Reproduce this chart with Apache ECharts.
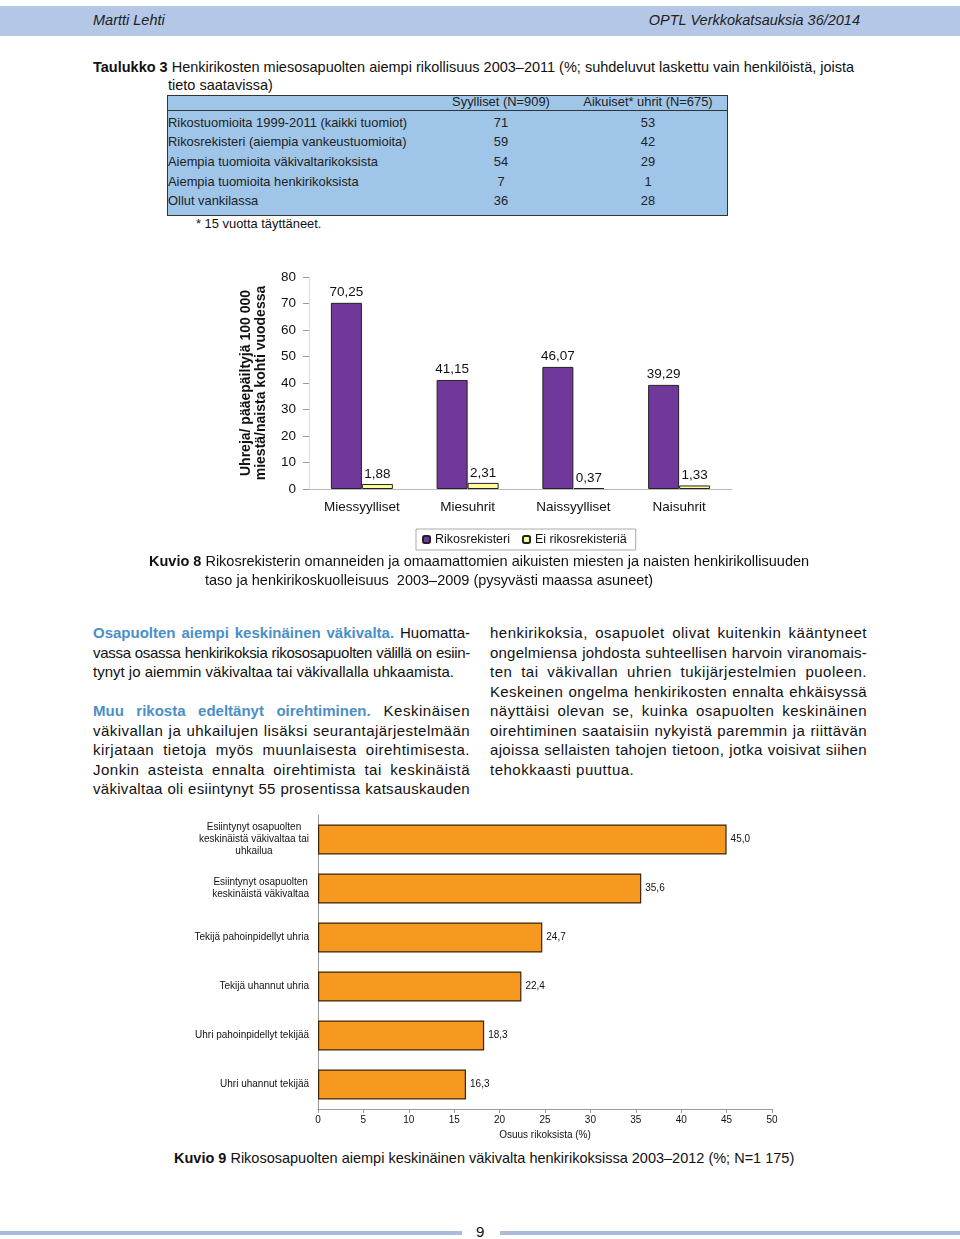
<!DOCTYPE html>
<html>
<head>
<meta charset="utf-8">
<script src="https://cdn.jsdelivr.net/npm/echarts@6/dist/echarts.min.js"></script>
<style>
  html, body { margin: 0; padding: 0; background: #fff; }
  body { width: 960px; height: 1239px; position: relative; overflow: hidden; font-family: "Liberation Sans", Arial, sans-serif; color: #111; }
  .abs { position: absolute; }
  .hdr { left: 0; top: 6px; width: 960px; height: 30px; background: #b4c7e7; }
  .hdrtxt { font-family: "Liberation Sans Narrow", "Liberation Sans", sans-serif; font-style: italic; font-size: 14.5px; color: #222; top: 12px; }
  .title { font-size: 14.5px; left: 93px; white-space: nowrap; }
  .tbl { left: 167px; top: 95px; width: 559px; height: 119px; background: #9fc5e8; border: 1px solid #333; font-size: 12.9px; color: #222; }
  .tr { position: absolute; left: 0; width: 559px; height: 19.7px; line-height: 19.7px; white-space: nowrap; }
  .tc { position: absolute; top: 0; width: 140px; text-align: center; }
  .col { font-size: 15px; line-height: 19.5px; }
  .ln { white-space: nowrap; text-align: justify; text-align-last: justify; }
  .last { text-align-last: left; }
  .blue { color: #4a8fc9; font-weight: bold; letter-spacing: 0 !important; }
  .cap { font-size: 14.5px; white-space: nowrap; }
</style>
</head>
<body>
<div class="abs hdr"></div>
<div class="abs hdrtxt" style="left:93px;">Martti Lehti</div>
<div class="abs hdrtxt" style="right:100px;">OPTL Verkkokatsauksia 36/2014</div>

<div class="abs title" style="top:59px;"><b>Taulukko 3</b> Henkirikosten miesosapuolten aiempi rikollisuus 2003–2011 (%; suhdeluvut laskettu vain henkilöistä, joista</div>
<div class="abs title" style="top:77px; left:168px;">tieto saatavissa)</div>

<div class="abs tbl" id="tablewrap"></div>
<div class="abs" style="left:196px; top:216px; font-size:12.9px;">* 15 vuotta täyttäneet.</div>

<div class="abs" id="c1" style="left:0; top:250px; width:960px; height:310px;"></div>

<div class="abs cap" style="left:149px; top:553px;"><b>Kuvio 8</b> Rikosrekisterin omanneiden ja omaamattomien aikuisten miesten ja naisten henkirikollisuuden</div>
<div class="abs cap" style="left:205px; top:572px;">taso ja henkirikoskuolleisuus &nbsp;2003–2009 (pysyvästi maassa asuneet)</div>

<div class="abs col" style="left:93px; top:623px; width:377px;">
  <div class="ln" data-ls="0"><span class="blue">Osapuolten aiempi keskinäinen väkivalta.</span> Huomatta-</div>
  <div class="ln" data-ls="0">vassa osassa henkirikoksia rikososapuolten välillä on esiin-</div>
  <div class="ln last" data-ls="0">tynyt jo aiemmin väkivaltaa tai väkivallalla uhkaamista.</div>
  <div style="height:19.5px;"></div>
  <div class="ln" data-ls="0.5"><span class="blue">Muu rikosta edeltänyt oirehtiminen.</span> Keskinäisen</div>
  <div class="ln" data-ls="0.5">väkivallan ja uhkailujen lisäksi seurantajärjestelmään</div>
  <div class="ln" data-ls="0.5">kirjataan tietoja myös muunlaisesta oirehtimisesta.</div>
  <div class="ln" data-ls="0.5">Jonkin asteista ennalta oirehtimista tai keskinäistä</div>
  <div class="ln" data-ls="0.5">väkivaltaa oli esiintynyt 55 prosentissa katsauskauden</div>
</div>

<div class="abs col" style="left:490px; top:623px; width:377px;">
  <div class="ln" data-ls="0.5">henkirikoksia, osapuolet olivat kuitenkin kääntyneet</div>
  <div class="ln" data-ls="0.5">ongelmiensa johdosta suhteellisen harvoin viranomais-</div>
  <div class="ln" data-ls="0.5">ten tai väkivallan uhrien tukijärjestelmien puoleen.</div>
  <div class="ln" data-ls="0.5">Keskeinen ongelma henkirikosten ennalta ehkäisyssä</div>
  <div class="ln" data-ls="0.5">näyttäisi olevan se, kuinka osapuolten keskinäinen</div>
  <div class="ln" data-ls="0.5">oirehtiminen saataisiin nykyistä paremmin ja riittävän</div>
  <div class="ln" data-ls="0.5">ajoissa sellaisten tahojen tietoon, jotka voisivat siihen</div>
  <div class="ln last" data-ls="0.5">tehokkaasti puuttua.</div>
</div>

<div class="abs" id="c2" style="left:0; top:800px; width:960px; height:350px;"></div>

<div class="abs cap" style="left:174px; top:1150px;"><b>Kuvio 9</b> Rikososapuolten aiempi keskinäinen väkivalta henkirikoksissa 2003–2012 (%; N=1 175)</div>

<div class="abs" style="left:0; top:1231px; width:462px; height:4px; background:#a9bcd9;"></div>
<div class="abs" style="left:500px; top:1231px; width:460px; height:4px; background:#a9bcd9;"></div>
<div class="abs" style="left:476px; top:1223px; font-size:15px;">9</div>

<script>
// ---- Taulukko 3 ----
var tableCols = ['Syylliset (N=909)', 'Aikuiset* uhrit (N=675)'];
var tableRows = ['Rikostuomioita 1999-2011 (kaikki tuomiot)', 'Rikosrekisteri (aiempia vankeustuomioita)', 'Aiempia tuomioita väkivaltarikoksista', 'Aiempia tuomioita henkirikoksista', 'Ollut vankilassa'];
var tableSyylliset = [71, 59, 54, 7, 36];
var tableUhrit = [53, 42, 29, 1, 28];

// ---- Kuvio 8 ----
var k8Categories = ['Miessyylliset', 'Miesuhrit', 'Naissyylliset', 'Naisuhrit'];
var k8Rikosrekisteri = [70.25, 41.15, 46.07, 39.29];
var k8EiRikosrekisteria = [1.88, 2.31, 0.37, 1.33];
var k8YTicks = [0, 10, 20, 30, 40, 50, 60, 70, 80];

// ---- Kuvio 9 ----
var k9Categories = ['Esiintynyt osapuolten\nkeskinäistä väkivaltaa tai\nuhkailua', 'Esiintynyt osapuolten\nkeskinäistä väkivaltaa', 'Tekijä pahoinpidellyt uhria', 'Tekijä uhannut uhria', 'Uhri pahoinpidellyt tekijää', 'Uhri uhannut tekijää'];
var k9Values = [45.0, 35.6, 24.7, 22.4, 18.3, 16.3];
var k9XTicks = [0, 5, 10, 15, 20, 25, 30, 35, 40, 45, 50];

// build table (header row 16px, then data rows)
(function () {
  var c1x = 501 - 168 - 70, c2x = 648 - 168 - 70;
  var h = '<div class="tr" style="top:-2px;height:16px;line-height:16px;border-bottom:1px solid #333;">' +
    '<div class="tc" style="left:' + c1x + 'px;line-height:16px;">' + tableCols[0] + '</div>' +
    '<div class="tc" style="left:' + c2x + 'px;line-height:16px;">' + tableCols[1] + '</div></div>';
  for (var i = 0; i < tableRows.length; i++) {
    var top = 16.5 + i * 19.7;
    h += '<div class="tr" style="top:' + top + 'px;"><span>' + tableRows[i] + '</span>' +
      '<div class="tc" style="left:' + c1x + 'px;">' + tableSyylliset[i] + '</div>' +
      '<div class="tc" style="left:' + c2x + 'px;">' + tableUhrit[i] + '</div></div>';
  }
  document.getElementById('tablewrap').innerHTML = h;
})();

// fit justified lines: apply desired letter-spacing, shrink it if the line would overflow
(function () {
  var lines = document.querySelectorAll('.ln');
  lines.forEach(function (el) {
    var ls = parseFloat(el.getAttribute('data-ls')) || 0;
    var boxW = el.clientWidth;
    var isLast = el.classList.contains('last');
    el.style.textAlignLast = 'left';
    el.style.textAlign = 'left';
    function natural() {
      var r = document.createRange();
      r.selectNodeContents(el);
      return r.getBoundingClientRect().width;
    }
    el.style.letterSpacing = ls + 'px';
    var guard = 0;
    while (natural() > boxW - 1 && guard < 60) { ls -= 0.05; el.style.letterSpacing = ls + 'px'; guard++; }
    el.style.textAlign = '';
    el.style.textAlignLast = isLast ? 'left' : '';
  });
})();

function fmt(v, d) { return v.toFixed(d).replace('.', ','); }

var FONT = 'Liberation Sans';

var c1 = echarts.init(document.getElementById('c1'), null, { renderer: 'canvas' });
c1.setOption({
  animation: false,
  textStyle: { fontFamily: FONT },
  grid: { left: 309, right: 228, top: 27, bottom: 71 },
  legend: {
    left: 416, top: 279,
    itemWidth: 7, itemHeight: 7, itemGap: 12,
    padding: [4, 9, 4, 6],
    borderColor: '#aaa', borderWidth: 1,
    textStyle: { fontSize: 12.5, color: '#111', fontFamily: FONT },
    data: ['Rikosrekisteri', 'Ei rikosrekisteriä']
  },
  xAxis: {
    type: 'category',
    data: k8Categories,
    axisLine: { lineStyle: { color: '#bbb' } },
    axisTick: { show: false },
    axisLabel: { fontSize: 13.5, color: '#111', margin: 11, fontFamily: FONT }
  },
  yAxis: {
    type: 'value', min: k8YTicks[0], max: k8YTicks[k8YTicks.length - 1], interval: 10,
    name: 'Uhreja/ pääepäiltyjä 100 000\nmiestä/naista kohti vuodessa',
    nameLocation: 'middle', nameRotate: 90, nameGap: 40,
    nameTextStyle: { fontSize: 14, fontWeight: 'bold', color: '#111', lineHeight: 15, fontFamily: FONT },
    axisLine: { show: true, lineStyle: { color: '#ddd' } },
    axisTick: { show: true, length: 6, lineStyle: { color: '#999' } },
    splitLine: { show: false },
    axisLabel: { fontSize: 13.5, color: '#111', margin: 13, fontFamily: FONT }
  },
  series: [
    {
      name: 'Rikosrekisteri', type: 'bar', data: k8Rikosrekisteri,
      barWidth: 31, barGap: '0%',
      itemStyle: { color: '#70389a', borderColor: '#222', borderWidth: 1 },
      label: { show: true, position: 'top', distance: 4, fontSize: 13.5, color: '#111', fontFamily: FONT, formatter: function (p) { return fmt(p.value, 2); } }
    },
    {
      name: 'Ei rikosrekisteriä', type: 'bar', data: k8EiRikosrekisteria,
      barWidth: 31,
      itemStyle: { color: '#ffff99', borderColor: '#222', borderWidth: 1 },
      label: { show: true, position: 'top', distance: 3, fontSize: 13.5, color: '#111', fontFamily: FONT, formatter: function (p) { return fmt(p.value, 2); } }
    }
  ]
});

var c2 = echarts.init(document.getElementById('c2'), null, { renderer: 'canvas' });
c2.setOption({
  animation: false,
  textStyle: { fontFamily: FONT },
  grid: { left: 318, right: 188, top: 15, bottom: 41 },
  xAxis: {
    type: 'value', min: k9XTicks[0], max: k9XTicks[k9XTicks.length - 1], interval: 5,
    name: 'Osuus rikoksista (%)', nameLocation: 'middle', nameGap: 21,
    nameTextStyle: { fontSize: 10, color: '#111', fontFamily: FONT },
    axisLine: { show: true, lineStyle: { color: '#999' } },
    axisTick: { show: true, length: 4, lineStyle: { color: '#999' } },
    splitLine: { show: false },
    axisLabel: { fontSize: 10, color: '#111', margin: 6, fontFamily: FONT }
  },
  yAxis: {
    type: 'category', data: k9Categories, inverse: true,
    axisLine: { show: true, lineStyle: { color: '#999' } },
    axisTick: { show: false },
    axisLabel: {
      fontSize: 10, color: '#111', margin: 9, lineHeight: 12, fontFamily: FONT,
      formatter: function (v) { return v.split('\n').map(function (s) { return '{c|' + s + '}'; }).join('\n'); },
      rich: { c: { align: 'center', fontSize: 10, lineHeight: 12, color: '#111', fontFamily: FONT } }
    }
  },
  series: [{
    type: 'bar', data: k9Values, barWidth: 30,
    itemStyle: { color: '#f7981f', borderColor: '#3a2410', borderWidth: 1.2 },
    label: { show: true, position: 'right', distance: 4, fontSize: 10, color: '#111', fontFamily: FONT, formatter: function (p) { return fmt(p.value, 1); } }
  }]
});
</script>
</body>
</html>
